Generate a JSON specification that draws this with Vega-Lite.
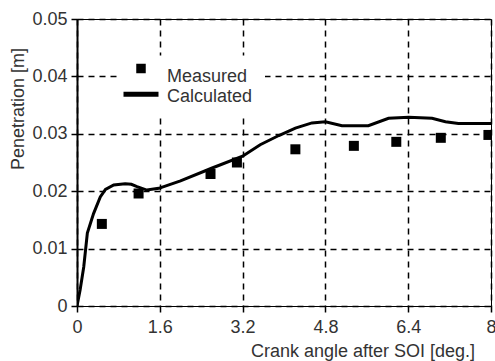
{
  "$schema": "https://vega.github.io/schema/vega-lite/v6.json",
  "width": 414,
  "height": 287,
  "autosize": "none",
  "padding": {"left": 77, "top": 19, "right": 4, "bottom": 55},
  "background": "white",
  "config": {
    "font": "Liberation Sans",
    "view": {"stroke": "black", "strokeWidth": 1},
    "axis": {
      "labelFont": "Liberation Sans",
      "labelFontSize": 18,
      "labelColor": "#333",
      "titleFont": "Liberation Sans",
      "titleFontSize": 18,
      "titleFontWeight": "normal",
      "titleColor": "#333",
      "domainColor": "black",
      "tickColor": "black",
      "tickWidth": 1.5,
      "tickSize": 6,
      "gridColor": "black",
      "gridDash": [6, 5],
      "gridWidth": 1.5,
      "gridOpacity": 1
    }
  },
  "data": {
    "values": [
      {"x": 0, "y": 0, "series": "Calculated"},
      {"x": 0.06, "y": 0.0028, "series": "Calculated"},
      {"x": 0.13, "y": 0.0068, "series": "Calculated"},
      {"x": 0.2, "y": 0.0127, "series": "Calculated"},
      {"x": 0.32, "y": 0.0161, "series": "Calculated"},
      {"x": 0.45, "y": 0.019, "series": "Calculated"},
      {"x": 0.55, "y": 0.0203, "series": "Calculated"},
      {"x": 0.71, "y": 0.0211, "series": "Calculated"},
      {"x": 0.93, "y": 0.0213, "series": "Calculated"},
      {"x": 1.05, "y": 0.0212, "series": "Calculated"},
      {"x": 1.16, "y": 0.0208, "series": "Calculated"},
      {"x": 1.35, "y": 0.0202, "series": "Calculated"},
      {"x": 1.58, "y": 0.0205, "series": "Calculated"},
      {"x": 2.0, "y": 0.0218, "series": "Calculated"},
      {"x": 2.6, "y": 0.024, "series": "Calculated"},
      {"x": 3.2, "y": 0.0261, "series": "Calculated"},
      {"x": 3.54, "y": 0.0281, "series": "Calculated"},
      {"x": 3.9, "y": 0.0297, "series": "Calculated"},
      {"x": 4.22, "y": 0.031, "series": "Calculated"},
      {"x": 4.54, "y": 0.0319, "series": "Calculated"},
      {"x": 4.8, "y": 0.0321, "series": "Calculated"},
      {"x": 5.12, "y": 0.0314, "series": "Calculated"},
      {"x": 5.63, "y": 0.0314, "series": "Calculated"},
      {"x": 6.02, "y": 0.0327, "series": "Calculated"},
      {"x": 6.41, "y": 0.0329, "series": "Calculated"},
      {"x": 6.86, "y": 0.0327, "series": "Calculated"},
      {"x": 7.12, "y": 0.0321, "series": "Calculated"},
      {"x": 7.37, "y": 0.0318, "series": "Calculated"},
      {"x": 8, "y": 0.0318, "series": "Calculated"},
      {"x": 0.48, "y": 0.0143, "series": "Measured"},
      {"x": 1.19, "y": 0.0196, "series": "Measured"},
      {"x": 2.58, "y": 0.023, "series": "Measured"},
      {"x": 3.09, "y": 0.025, "series": "Measured"},
      {"x": 4.22, "y": 0.0273, "series": "Measured"},
      {"x": 5.35, "y": 0.0279, "series": "Measured"},
      {"x": 6.17, "y": 0.0286, "series": "Measured"},
      {"x": 7.03, "y": 0.0293, "series": "Measured"},
      {"x": 7.95, "y": 0.0298, "series": "Measured"}
    ]
  },
  "encoding": {
    "x": {
      "field": "x", "type": "quantitative",
      "scale": {"domain": [0, 8], "nice": false, "zero": false},
      "axis": {
        "values": [0, 1.6, 3.2, 4.8, 6.4, 8],
        "labelExpr": "datum.value == 0 ? '0' : datum.value == 8 ? '8' : format(datum.value, '.1f')",
        "labelPadding": 6,
        "labelFlush": false,
        "labelOverlap": false,
        "domainWidth": 1,
        "title": "Crank angle after SOI [deg.]",
        "titleX": 285.5,
        "titleY": 50,
        "titleAlign": "center",
        "titleBaseline": "alphabetic"
      }
    },
    "y": {
      "field": "y", "type": "quantitative",
      "scale": {"domain": [0, 0.05], "nice": false},
      "axis": {
        "values": [0, 0.01, 0.02, 0.03, 0.04, 0.05],
        "labelExpr": "datum.value == 0 ? '0' : format(datum.value, '.2f')",
        "labelPadding": 4,
        "labelFlush": false,
        "labelOverlap": false,
        "domainWidth": 2,
        "title": "Penetration [m]",
        "titleX": -58.5,
        "titleY": 89.5,
        "titleAngle": -90,
        "titleAlign": "center",
        "titleBaseline": "middle"
      }
    }
  },
  "layer": [
    {
      "transform": [{"filter": "datum.series == 'Calculated'"}],
      "mark": {"type": "line", "color": "black", "strokeWidth": 3, "clip": true},
      "encoding": {}
    },
    {
      "transform": [{"filter": "datum.series == 'Measured'"}],
      "mark": {"type": "point", "shape": "square", "size": 100, "filled": true, "color": "black", "opacity": 1, "clip": true},
      "encoding": {}
    },
    {
      "transform": [{"filter": "datum.series == 'Measured'"}],
      "mark": {"type": "point", "filled": true, "color": "black", "opacity": 0, "clip": true},
      "encoding": {
        "shape": {
          "field": "series", "type": "nominal",
          "scale": {"domain": ["Measured", "Calculated"], "range": ["M-0.95,-2.55H0.95V-0.65H-0.95Z", "M-3.5,-0.95H3.5V0.05H-3.5Z"]},
          "legend": {
            "title": null,
            "orient": "none",
            "legendX": 43,
            "legendY": 36.5,
            "padding": 12,
            "fillColor": "white",
            "strokeColor": null,
            "labelFont": "Liberation Sans",
            "labelFontSize": 18,
            "labelColor": "#333",
            "labelOffset": 17,
            "rowPadding": 2,
            "symbolSize": 100,
            "symbolFillColor": "black",
            "symbolStrokeWidth": 0,
            "symbolOpacity": 1
          }
        },
        "size": {"value": 100}
      }
    }
  ]
}
